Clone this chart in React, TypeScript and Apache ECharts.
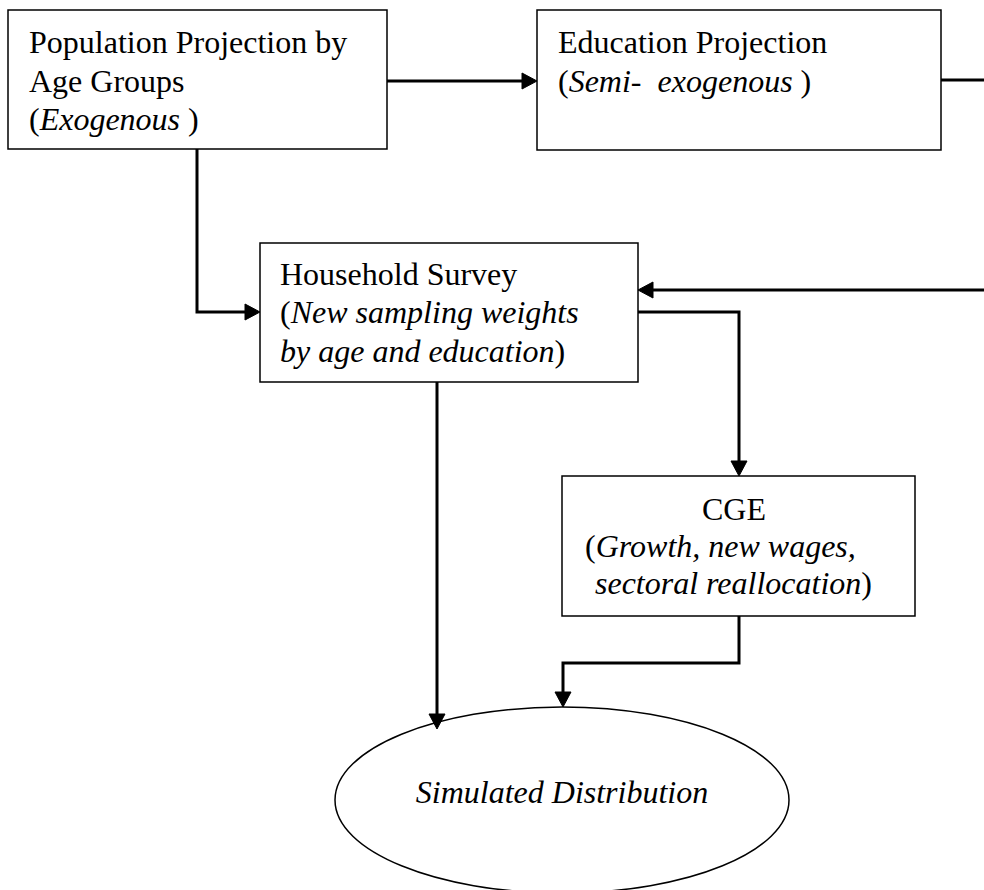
import React, { useEffect, useRef } from "react";
import * as echarts from "echarts";

// ---- content (texts) ----
const populationLines = ["Population Projection by", "Age Groups", "({i|Exogenous} )"];
const educationLines = ["Education Projection", "({i|Semi-  exogenous} )"];
const householdLines = ["Household Survey", "({i|New sampling weights}", "{i|by age and education})"];
const cgeLines = ["CGE", "({i|Growth, new wages,}", "{i|sectoral reallocation})"];
const outcomeLabel = "{i|Simulated Distribution}";

// ---- layout ----
const FAMILY = "Liberation Serif";
const FSIZE = 32;
const MID = 11; // baseline -> middle offset

type Box = { x: number; y: number; w: number; h: number };
const B1: Box = { x: 8, y: 10, w: 379, h: 139 };
const B2: Box = { x: 537, y: 10, w: 404, h: 140 };
const B3: Box = { x: 260, y: 243, w: 378, h: 139 };
const B4: Box = { x: 562, y: 476, w: 353, h: 140 };
const ELL = { cx: 562, cy: 800, rx: 227, ry: 93 };

function txt(x: number, baseline: number, text: string, align = "left") {
  return {
    type: "text",
    x,
    y: baseline - MID,
    z: 10,
    style: {
      text,
      fontFamily: FAMILY,
      fontSize: FSIZE,
      fontStyle: "normal",
      fill: "#000",
      align,
      textAlign: align,
      verticalAlign: "middle",
      textVerticalAlign: "middle",
      rich: { i: { fontFamily: FAMILY, fontSize: FSIZE, fontStyle: "italic", fill: "#000" } },
    },
  };
}

function rect(b: Box) {
  return {
    type: "rect",
    z: 1,
    shape: { x: b.x, y: b.y, width: b.w, height: b.h },
    style: { fill: "#fff", stroke: "#000", lineWidth: 1.5 },
  };
}

const AL = 15;
const AW = 8;
function arrowHead(x: number, y: number, dir: string) {
  let pts: number[][];
  if (dir === "right") pts = [[x, y], [x - AL, y - AW], [x - AL, y + AW]];
  else if (dir === "left") pts = [[x, y], [x + AL, y - AW], [x + AL, y + AW]];
  else pts = [[x, y], [x - AW, y - AL], [x + AW, y - AL]];
  return { type: "polygon", z: 5, shape: { points: pts }, style: { fill: "#000", stroke: "#000", lineWidth: 1 } };
}

function wire(points: number[][], head?: string) {
  const pts = points.map((p) => p.slice());
  const els: any[] = [];
  if (head) {
    const last = pts[pts.length - 1];
    const tip = last.slice();
    if (head === "right") last[0] -= AL - 1;
    else if (head === "left") last[0] += AL - 1;
    else last[1] -= AL - 1;
    els.push(arrowHead(tip[0], tip[1], head));
  }
  els.push({
    type: "polyline",
    z: 4,
    shape: { points: pts },
    style: { stroke: "#000", lineWidth: 3, fill: null, lineJoin: "miter" },
  });
  return els;
}

export default function App() {
  const ref = useRef<HTMLDivElement>(null);
  useEffect(() => {
    document.body.style.margin = "0";
    const chart = echarts.init(ref.current!, undefined, { renderer: "svg" });
    const elements: any[] = [
      rect(B1),
      rect(B2),
      rect(B3),
      rect(B4),
      {
        type: "ellipse",
        z: 1,
        shape: ELL,
        style: { fill: "#fff", stroke: "#000", lineWidth: 1.5 },
      },
      ...wire([[387, 81], [537, 81]], "right"),
      ...wire([[941, 80], [984, 80]]),
      ...wire([[984, 290], [638, 290]], "left"),
      ...wire([[197, 149], [197, 312], [260, 312]], "right"),
      ...wire([[638, 312], [739, 312], [739, 476]], "down"),
      ...wire([[437, 382], [437, 729]], "down"),
      ...wire([[739, 616], [739, 663], [563, 663], [563, 707]], "down"),
      txt(29, 53, populationLines[0]),
      txt(29, 92, populationLines[1]),
      txt(29, 130, populationLines[2]),
      txt(558, 53, educationLines[0]),
      txt(558, 92, educationLines[1]),
      txt(280, 285, householdLines[0]),
      txt(280, 323, householdLines[1]),
      txt(280, 362, householdLines[2]),
      txt(734, 520, cgeLines[0], "center"),
      txt(585, 557, cgeLines[1]),
      txt(595, 594, cgeLines[2]),
      txt(562, 803, outcomeLabel, "center"),
    ];
    chart.setOption({ animation: false, graphic: { elements } });
    return () => chart.dispose();
  }, []);
  return <div ref={ref} style={{ width: 984, height: 890 }} />;
}
